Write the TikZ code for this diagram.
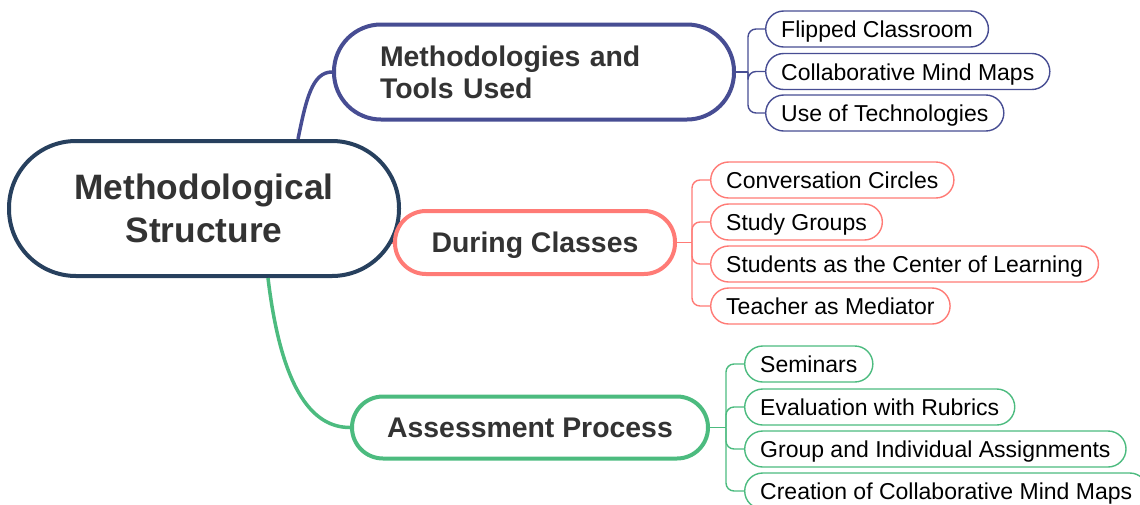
\documentclass[tikz,border=0pt]{standalone}
\usepackage{fontspec}
\setmainfont{Liberation Sans}
\usetikzlibrary{calc,backgrounds}
\definecolor{cRoot}{HTML}{27405E}
\definecolor{cOne}{HTML}{474D93}
\definecolor{cTwo}{HTML}{FF7B76}
\definecolor{cThree}{HTML}{4CBB7F}
\definecolor{txtdark}{HTML}{333333}
\tikzset{
  rootbox/.style={draw=cRoot, line width=4, fill=white, rounded corners=67,
    minimum width=390, minimum height=135, align=center, text=txtdark,
    font=\fontsize{35.3}{43}\selectfont\bfseries},
  branchbox/.style={line width=4, fill=white, text=txtdark,
    font=\fontsize{28.4}{32}\selectfont\bfseries},
  leafbox/.style={line width=1.4, fill=white, anchor=west, inner xsep=15.5,
    inner ysep=0, minimum height=36, rounded corners=18, text=black,
    text height=20, text depth=3,
    font=\fontsize{23}{27}\selectfont},
  maincon/.style={line width=3.5},
  leafcon/.style={line width=1.4, rounded corners=8},
}
\begin{document}
\begin{tikzpicture}[x=1pt,y=-1pt]
\useasboundingbox (0,0) rectangle (1140,504);
\clip (0,0) rectangle (1140,504);

% root
\node[rootbox] (root) at (204,208.5) {Methodological\\Structure};

% branches
\node[branchbox, draw=cOne, anchor=west, text width=308, inner xsep=46,
      minimum height=95, rounded corners=47, align=left] (b1) at (332,72)
      {Methodologies and\\Tools Used};
\node[branchbox, draw=cTwo, minimum width=280, minimum height=63,
      rounded corners=31, text height=20.5, text depth=0] (b2) at (535,242.5) {During Classes};
\node[branchbox, draw=cThree, minimum width=356, minimum height=62,
      rounded corners=31, text height=20.5, text depth=0] (b3) at (530,427.5) {Assessment Process};

% main connectors
\draw[maincon, cOne] ($(root.north)+(94,0)$) .. controls (306,100) and (312,72) .. (b1.west);
\begin{pgfonlayer}{background}
\draw[maincon, cTwo] (b2.west) -- (b2.west -| root.center);
\end{pgfonlayer}
\draw[maincon, cThree] ($(root.south)+(64,0)$) .. controls (282,395) and (315,427.5) .. (b3.west);

% leaves of branch 1
\node[leafbox, draw=cOne] (l11) at (765,29) {Flipped Classroom};
\node[leafbox, draw=cOne] (l12) at (765,71.5) {Collaborative Mind Maps};
\node[leafbox, draw=cOne] (l13) at (765,113) {Use of Technologies};
\coordinate (j1) at (748,72);
\draw[leafcon, cOne] (b1.east) -- (j1);
\draw[leafcon, cOne] (j1) |- (l11.west);
\draw[leafcon, cOne] (j1) |- (l12.west);
\draw[leafcon, cOne] (j1) |- (l13.west);

% leaves of branch 2
\node[leafbox, draw=cTwo] (l21) at (710,180) {Conversation Circles};
\node[leafbox, draw=cTwo] (l22) at (710,222) {Study Groups};
\node[leafbox, draw=cTwo] (l23) at (710,264) {Students as the Center of Learning};
\node[leafbox, draw=cTwo] (l24) at (710,306) {Teacher as Mediator};
\coordinate (j2) at (692,242.5);
\draw[leafcon, cTwo] (b2.east) -- (j2);
\draw[leafcon, cTwo] (j2) |- (l21.west);
\draw[leafcon, cTwo] (j2) |- (l22.west);
\draw[leafcon, cTwo] (j2) |- (l23.west);
\draw[leafcon, cTwo] (j2) |- (l24.west);

% leaves of branch 3
\node[leafbox, draw=cThree] (l31) at (744,364) {Seminars};
\node[leafbox, draw=cThree] (l32) at (744,407) {Evaluation with Rubrics};
\node[leafbox, draw=cThree] (l33) at (744,449) {Group and Individual Assignments};
\node[leafbox, draw=cThree] (l34) at (744,491) {Creation of Collaborative Mind Maps};
\coordinate (j3) at (726,427.5);
\draw[leafcon, cThree] (b3.east) -- (j3);
\draw[leafcon, cThree] (j3) |- (l31.west);
\draw[leafcon, cThree] (j3) |- (l32.west);
\draw[leafcon, cThree] (j3) |- (l33.west);
\draw[leafcon, cThree] (j3) |- (l34.west);
\end{tikzpicture}
\end{document}
